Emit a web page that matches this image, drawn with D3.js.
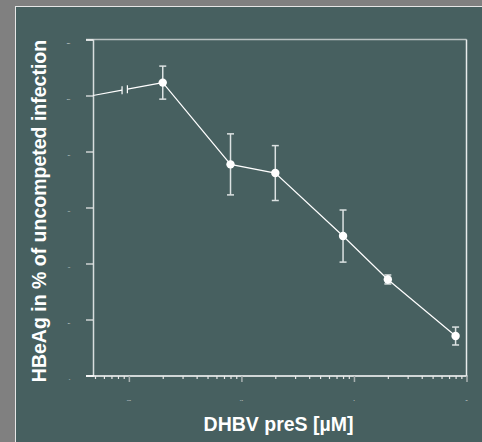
<!DOCTYPE html>
<html><head><meta charset="utf-8">
<script src="https://cdn.jsdelivr.net/npm/d3@7"></script>
<style>html,body{margin:0;padding:0;background:#808080;}svg{display:block;}</style>
</head><body>
<svg id="c" width="482" height="442"></svg>
<script>
// data
const concentrations = [0.02, 0.08, 0.2, 0.8, 2, 8];       // DHBV preS [µM]
const hbeag = [104.6, 75.4, 72.3, 49.8, 34.3, 14.1];        // % of uncompeted infection
const errors = [5.9, 10.9, 9.8, 9.3, 1.6, 3.2];
const controlValue = 100;                                   // uncompeted (no preS)
const yTicks = [0, 20, 40, 60, 80, 100, 120];
const xTickLabels = ["0.01", "0.1", "1", "10"];
const xMajor = [0.01, 0.1, 1, 10];
const breakMarks = [0.0087, 0.0097];

const svg = d3.select("#c");
const W = 482, H = 442;
svg.append("rect").attr("x", 0).attr("y", 0).attr("width", W).attr("height", H).attr("fill", "#808080");
svg.append("rect").attr("x", 15.5).attr("y", 6.5).attr("width", W).attr("height", H)
  .attr("fill", "#476060").attr("stroke", "#e6e6e6").attr("stroke-width", 1);

const x = d3.scaleLog().domain([0.0048, 10]).range([93, 466.5]);
const y = d3.scaleLinear().domain([0, 120]).range([375.5, 39.5]);

// frame top & right
svg.append("line").attr("x1", 86).attr("x2", x.range()[1]).attr("y1", y(120)).attr("y2", y(120))
  .attr("stroke", "#b8c0c0").attr("stroke-width", 1.5);
svg.append("line").attr("x1", x.range()[1]).attr("x2", x.range()[1]).attr("y1", y(120)).attr("y2", y(0))
  .attr("stroke", "#e8ecec").attr("stroke-width", 1.5);

// y axis
const yAxis = d3.axisLeft(y).tickValues(yTicks).tickSize(7).tickPadding(16).tickFormat(d3.format("d"));
const gy = svg.append("g").attr("transform", `translate(${x.range()[0]},0)`).call(yAxis);
gy.select(".domain").attr("stroke", "#d8dede").attr("stroke-width", 1.5);
gy.selectAll(".tick line").attr("stroke", "#f0f0f0").attr("stroke-width", 1.2);
gy.selectAll(".tick text").attr("fill", "#ffffff").attr("font-size", 2).attr("font-family", "Liberation Sans, Arial, sans-serif").attr("dy", 4);

// x axis (log minor ticks)
const allTicks = x.ticks();
const gx = svg.append("g").attr("transform", `translate(0,${y(0) + 0.5})`);
gx.append("line").attr("x1", 86).attr("x2", x.range()[1] + 1).attr("y1", 0).attr("y2", 0)
  .attr("stroke", "#ffffff").attr("stroke-width", 1.5);
gx.call(d3.axisBottom(x).tickValues(allTicks).tickSize(3).tickFormat(""))
  .select(".domain").remove();
gx.selectAll(".tick line").attr("stroke", "#e8e8e8").attr("stroke-width", 1.2);
gx.selectAll(".tick").filter(d => xMajor.some(m => Math.abs(m - d) < 1e-9)).select("line")
  .attr("y2", 6).attr("stroke", "#a8b0b0").attr("stroke-width", 1.5);
gx.selectAll(".lbl").data(xMajor).join("text").attr("class", "lbl")
  .attr("x", d => x(d)).attr("y", 25).attr("text-anchor", "middle")
  .attr("fill", "#ffffff").attr("font-size", 2).attr("font-family", "Liberation Sans, Arial, sans-serif")
  .text((d, i) => xTickLabels[i]);

// control line with axis break
const x0 = x.domain()[0];
const yb = t => controlValue + (hbeag[0] - controlValue) * (Math.log(t) - Math.log(x0)) / (Math.log(concentrations[0]) - Math.log(x0));
svg.append("line").attr("x1", x(x0)).attr("y1", y(controlValue))
  .attr("x2", x(breakMarks[0])).attr("y2", y(yb(breakMarks[0])))
  .attr("stroke", "#ffffff").attr("stroke-width", 1.2);
svg.append("line").attr("x1", x(breakMarks[1])).attr("y1", y(yb(breakMarks[1])))
  .attr("x2", x(concentrations[0])).attr("y2", y(hbeag[0]))
  .attr("stroke", "#ffffff").attr("stroke-width", 1.2);
svg.selectAll(".brk").data(breakMarks).join("line").attr("class", "brk")
  .attr("x1", d => x(d)).attr("x2", d => x(d))
  .attr("y1", d => y(yb(d)) - 4).attr("y2", d => y(yb(d)) + 4)
  .attr("stroke", "#ffffff").attr("stroke-width", 1.2);

// data line
const pts = concentrations.map((c, i) => ({c, v: hbeag[i], e: errors[i]}));
svg.append("path").datum(pts)
  .attr("d", d3.line().x(d => x(d.c)).y(d => y(d.v)))
  .attr("fill", "none").attr("stroke", "#ffffff").attr("stroke-width", 1.2);

// error bars
const eb = svg.append("g").attr("stroke", "#dce2e2").attr("stroke-width", 1.5);
pts.forEach(d => {
  eb.append("line").attr("x1", x(d.c)).attr("x2", x(d.c)).attr("y1", y(d.v + d.e)).attr("y2", y(d.v - d.e));
  eb.append("line").attr("x1", x(d.c) - 3.5).attr("x2", x(d.c) + 3.5).attr("y1", y(d.v + d.e)).attr("y2", y(d.v + d.e));
  eb.append("line").attr("x1", x(d.c) - 3.5).attr("x2", x(d.c) + 3.5).attr("y1", y(d.v - d.e)).attr("y2", y(d.v - d.e));
});

// markers
svg.selectAll(".pt").data(pts).join("circle").attr("class", "pt")
  .attr("cx", d => x(d.c)).attr("cy", d => y(d.v)).attr("r", 4.2).attr("fill", "#ffffff");

// titles
svg.append("text").attr("x", 278.5).attr("y", 431).attr("text-anchor", "middle")
  .attr("fill", "#ffffff").attr("font-size", 19.5).attr("font-weight", "bold")
  .attr("font-family", "Liberation Sans, Arial, sans-serif").text("DHBV preS [µM]");
svg.append("text").attr("transform", "translate(46,211) rotate(-90)").attr("text-anchor", "middle")
  .attr("fill", "#ffffff").attr("font-size", 19.5).attr("font-weight", "bold")
  .attr("font-family", "Liberation Sans, Arial, sans-serif").text("HBeAg in % of uncompeted infection");
</script>
</body></html>
